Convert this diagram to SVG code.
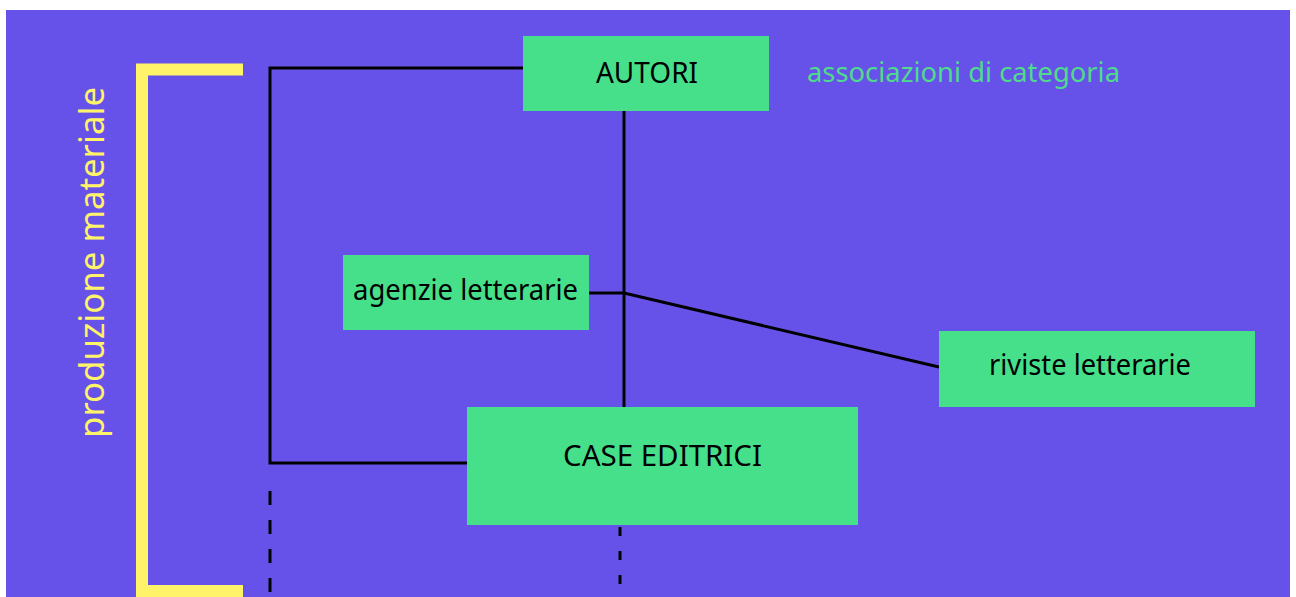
<svg xmlns="http://www.w3.org/2000/svg" width="1296" height="597" viewBox="0 0 1296 597">
  <style>
    .box { fill: #45E089; }
    .lbl { font-family: "Noto Sans", "Liberation Sans", sans-serif; font-size: 29px; fill: #000; }
    .link { stroke: #000; stroke-width: 3; fill: none; }
    .dash { stroke: #000; stroke-width: 3; fill: none; }
  </style>
  <rect x="0" y="0" width="1296" height="597" fill="#ffffff"/>
  <rect x="6" y="10" width="1284" height="587" fill="#6652E9"/>

  <!-- bracket and side label -->
  <g id="production-bracket">
    <path d="M243 69.5 H142 V591 H243" fill="none" stroke="#FFF36A" stroke-width="12"/>
    <text transform="translate(104,438) rotate(-90)" font-family="Noto Sans, Liberation Sans, sans-serif" font-size="34" fill="#FFF36A" textLength="351" lengthAdjust="spacingAndGlyphs">produzione materiale</text>
  </g>

  <!-- connectors -->
  <g id="connectors">
    <path class="link" d="M523 68 H270 V463 H467"/>
    <path class="link" d="M624 111 V407"/>
    <path class="link" d="M589 293 H624 L939 367"/>
    <path class="dash" d="M270 491 V597" stroke-dasharray="14 15"/>
    <path class="dash" d="M620 527 V597" stroke-dasharray="9 15"/>
  </g>

  <g id="autori">
    <rect class="box" x="523" y="36" width="246" height="75"/>
    <text class="lbl" x="596" y="83" textLength="102" lengthAdjust="spacingAndGlyphs">AUTORI</text>
  </g>

  <g id="associazioni">
    <text x="807" y="82" font-family="Noto Sans, Liberation Sans, sans-serif" font-size="27" fill="#4FDB8C" textLength="313" lengthAdjust="spacingAndGlyphs">associazioni di categoria</text>
  </g>

  <g id="agenzie">
    <rect class="box" x="343" y="255" width="246" height="75"/>
    <text class="lbl" x="353" y="300" textLength="225" lengthAdjust="spacingAndGlyphs">agenzie letterarie</text>
  </g>

  <g id="riviste">
    <rect class="box" x="939" y="331" width="316" height="76"/>
    <text class="lbl" x="989" y="375" textLength="202" lengthAdjust="spacingAndGlyphs">riviste letterarie</text>
  </g>

  <g id="case-editrici">
    <rect class="box" x="467" y="407" width="391" height="118"/>
    <text class="lbl" x="563" y="466" textLength="199" lengthAdjust="spacingAndGlyphs">CASE EDITRICI</text>
  </g>
</svg>
